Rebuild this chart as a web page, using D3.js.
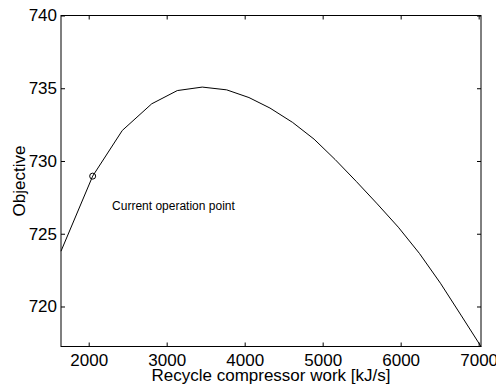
<!DOCTYPE html>
<html>
<head>
<meta charset="utf-8">
<script src="https://cdn.jsdelivr.net/npm/d3@7"></script>
<style>
  html, body { margin: 0; padding: 0; background: #fff; }
  svg { display: block; }
  text { font-family: "Liberation Sans", Arial, Helvetica, sans-serif; fill: #000; }
</style>
</head>
<body>
<svg id="chart" width="496" height="385"></svg>
<script>
// ---- data ----
const workValues = [1645, 2051, 2431, 2808, 3136, 3456, 3769, 4055, 4324, 4615, 4890, 5160, 5430, 5700, 5970, 6240, 6510, 6780, 7030];
const objectiveValues = [723.8, 728.96, 732.1, 733.93, 734.84, 735.08, 734.89, 734.36, 733.64, 732.65, 731.5, 730.1, 728.6, 727.05, 725.45, 723.65, 721.6, 719.35, 717.25];
const currentPoint = [2051, 728.96];
const annotationText = ["Current operation point"];
const annotationPos = [2300, 726.6];
const xTicks = [2000, 3000, 4000, 5000, 6000, 7000];
const yTicks = [720, 725, 730, 735, 740];
const xDomain = [1645, 7030];
const yDomain = [717.25, 740];
const xLabel = "Recycle compressor work [kJ/s]";
const yLabel = "Objective";

// ---- layout ----
const mLeft = 61, mRight = 481, mTop = 15.5, mBottom = 346.5;
const svg = d3.select("#chart");

const x = d3.scaleLinear().domain(xDomain).range([mLeft, mRight]);
const y = d3.scaleLinear().domain(yDomain).range([mBottom, mTop]);

// axes (inward ticks, MATLAB style)
const tickLen = 4;
svg.append("g")
  .attr("transform", `translate(0,${mBottom})`)
  .call(d3.axisBottom(x).tickValues(xTicks).tickFormat(d3.format("d")).tickSize(-tickLen).tickPadding(7))
  .call(g => g.select(".domain").remove())
  .call(g => g.selectAll("text").style("font-size", "17px").style("font-family", "Liberation Sans, Arial, sans-serif"))
  .call(g => g.selectAll("line").attr("stroke", "#000"));

svg.append("g")
  .attr("transform", `translate(0,${mTop})`)
  .call(d3.axisTop(x).tickValues(xTicks).tickFormat("").tickSize(-tickLen))
  .call(g => g.select(".domain").remove())
  .call(g => g.selectAll("line").attr("stroke", "#000"));

svg.append("g")
  .attr("transform", `translate(${mLeft},0)`)
  .call(d3.axisLeft(y).tickValues(yTicks).tickFormat(d3.format("d")).tickSize(-tickLen).tickPadding(4))
  .call(g => g.select(".domain").remove())
  .call(g => g.selectAll("text").style("font-size", "17px").style("font-family", "Liberation Sans, Arial, sans-serif"))
  .call(g => g.selectAll("line").attr("stroke", "#000"));

svg.append("g")
  .attr("transform", `translate(${mRight},0)`)
  .call(d3.axisRight(y).tickValues(yTicks).tickFormat("").tickSize(-tickLen))
  .call(g => g.select(".domain").remove())
  .call(g => g.selectAll("line").attr("stroke", "#000"));

// box
svg.append("rect")
  .attr("x", mLeft).attr("y", mTop)
  .attr("width", mRight - mLeft).attr("height", mBottom - mTop)
  .attr("fill", "none").attr("stroke", "#000").attr("stroke-width", 1);

// curve
const pts = workValues.map((w, i) => [w, objectiveValues[i]]);
svg.append("path")
  .datum(pts)
  .attr("fill", "none")
  .attr("stroke", "#000")
  .attr("stroke-width", 1)
  .attr("d", d3.line().x(d => x(d[0])).y(d => y(d[1])));

// current operation point marker
svg.append("circle")
  .attr("cx", x(currentPoint[0])).attr("cy", y(currentPoint[1]))
  .attr("r", 3).attr("fill", "none").attr("stroke", "#000").attr("stroke-width", 1);

// annotation
svg.append("text")
  .attr("x", x(annotationPos[0])).attr("y", y(annotationPos[1]))
  .style("font-size", "12px")
  .text(annotationText[0]);

// axis labels
svg.append("text")
  .attr("x", (mLeft + mRight) / 2).attr("y", 381)
  .attr("text-anchor", "middle")
  .style("font-size", "17px")
  .text(xLabel);

svg.append("text")
  .attr("transform", `translate(25,${(mTop + mBottom) / 2}) rotate(-90)`)
  .attr("text-anchor", "middle")
  .style("font-size", "17px")
  .text(yLabel);
</script>
</body>
</html>
